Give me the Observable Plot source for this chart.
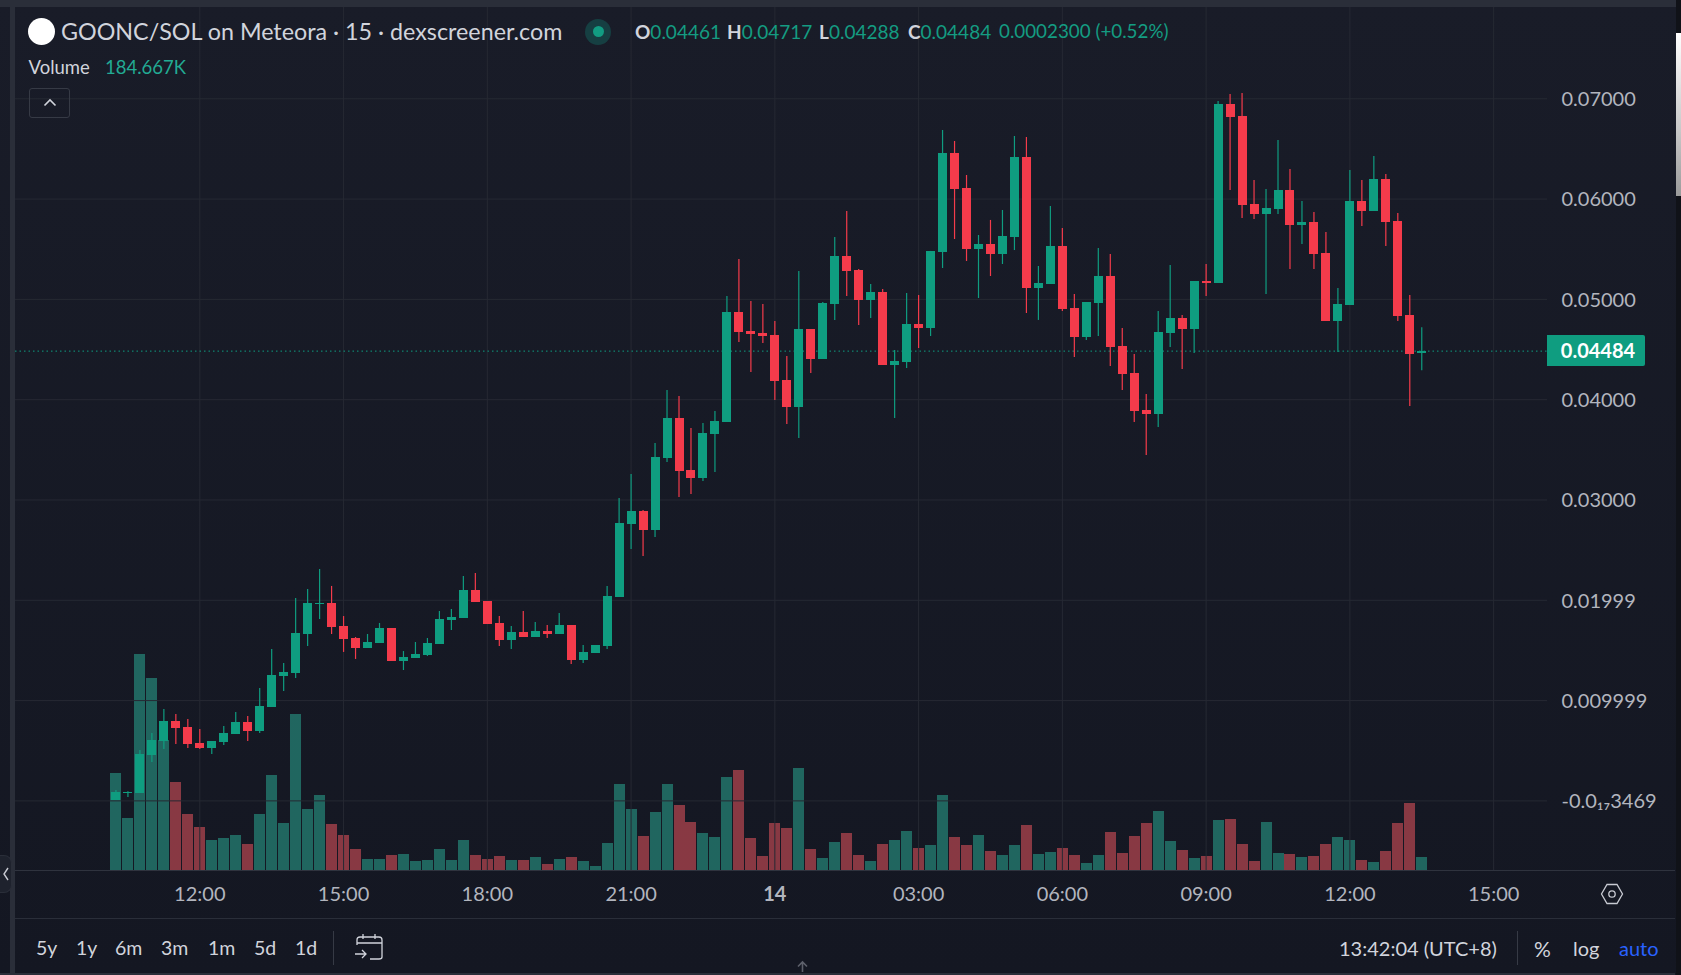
<!DOCTYPE html>
<html><head><meta charset="utf-8">
<script src="https://cdn.jsdelivr.net/npm/d3@7"></script>
<script src="https://cdn.jsdelivr.net/npm/@observablehq/plot@0.6"></script>
<style>
html,body{margin:0;padding:0;width:1681px;height:975px;overflow:hidden;background:linear-gradient(180deg,#191c28 0%,#141722 100%);font-family:Lato,"Noto Sans",sans-serif;color:#d1d4dc}
#stage{position:relative;width:1681px;height:975px;overflow:hidden}
#stage svg{position:absolute;left:0;top:0;background:transparent}
.a{position:absolute;white-space:nowrap;line-height:1}
.g{color:#149c82}
.box{position:absolute}
</style></head><body><div id="stage"></div>
<script>
// prices in units of 0.00001, one entry per 15-minute bar starting 10:15
const priceOpen=[4,74,74,452,592,792,732,572,522,582,662,782,692,931,1240,1270,1659,1958,1968,1739,1619,1519,1569,1719,1390,1420,1450,1559,1798,1818,2098,1988,1769,1599,1679,1629,1689,1659,1749,1400,1470,1539,2028,2756,2885,2696,3414,3813,3294,3214,3653,3773,4869,4680,4660,4640,4191,3922,4700,4401,4949,5428,5288,4989,5069,4341,4371,4750,4710,5468,6455,6106,5497,5547,5448,5617,6415,5109,5149,5527,4909,4620,4959,5228,4530,4261,3892,3852,4660,4810,4700,5178,5159,6943,6823,5946,5846,5896,6086,5737,5767,5458,4780,4939,5976,5876,6195,5777,4839,4461];
const priceHigh=[104,90,502,672,911,861,811,712,592,742,881,841,1121,1509,1370,2018,2108,2307,2138,1838,1629,1659,1769,1719,1489,1579,1619,1888,1908,2237,2267,1988,1838,1739,1888,1779,1749,1868,1749,1549,1549,2138,3015,3254,2895,3563,4092,4032,3713,3763,3882,5029,5398,4979,4949,4780,4431,5278,4700,4969,5617,5876,5298,5149,5099,4491,5059,5039,5478,6684,6574,6235,5637,5787,5886,6624,6614,5328,5926,5707,5049,4969,5507,5448,4710,4451,4052,4879,5338,4839,5178,5348,6973,7043,7053,6185,6096,6584,6295,5976,5866,5667,5109,6285,6185,6425,6245,5856,5039,4717];
const priceLow=[4,34,74,383,512,562,522,512,462,552,662,592,672,931,1091,1220,1539,1808,1659,1480,1410,1519,1569,1390,1300,1420,1440,1559,1699,1818,1978,1759,1539,1509,1629,1629,1619,1659,1360,1370,1470,1509,2028,2507,2437,2626,3374,3025,3055,3184,3274,3773,4570,4271,4560,3992,3753,3613,4261,4401,4790,5029,4740,4810,4341,3813,4311,4510,4630,5308,5597,5378,5009,5228,5348,5487,4859,4790,5149,4879,4421,4590,4630,4331,4092,3773,3444,3723,4520,4301,4461,5029,5159,6086,5806,5797,5049,5846,5298,5547,5298,4780,4471,4939,5727,5876,5527,4780,3932,4288];
const priceClose=[84,84,462,602,792,722,562,522,592,672,782,692,941,1250,1280,1669,1968,1968,1729,1609,1519,1579,1719,1390,1430,1460,1569,1808,1828,2098,1978,1759,1599,1679,1629,1689,1659,1749,1400,1480,1549,2038,2766,2885,2696,3424,3813,3284,3214,3663,3783,4869,4670,4650,4630,4181,3922,4700,4401,4959,5428,5278,4989,5069,4341,4381,4750,4710,5478,6455,6096,5497,5547,5448,5627,6415,5109,5159,5527,4899,4620,4969,5228,4520,4251,3882,3852,4670,4810,4700,5178,5159,6943,6813,5936,5846,5906,6086,5737,5767,5448,4780,4949,5976,5876,6195,5767,4830,4451,4484];
// volume in thousands
const volumeK=[1382,743,3072,2731,1851,1254,800,615,431,459,502,374,800,1354,672,2220,871,1070,658,502,303,161,161,218,232,133,147,303,147,431,218,161,204,147,147,189,90,161,189,133,62,383,1221,866,483,824,1221,923,682,525,469,1320,1420,454,199,667,596,1448,298,170,398,525,213,128,369,426,554,312,355,1065,469,355,497,270,213,355,639,227,256,312,213,99,213,540,241,483,667,838,412,284,170,199,710,724,369,128,682,241,227,185,199,369,469,426,142,114,270,667,951,185];
const firstBar="2024-01-13T10:15:00Z";
const axisStart="2024-01-13T08:09:14Z", axisEnd="2024-01-14T16:07:26Z";
const hourTicks=["2024-01-13T12:00:00Z","2024-01-13T15:00:00Z","2024-01-13T18:00:00Z","2024-01-13T21:00:00Z","2024-01-14T03:00:00Z","2024-01-14T06:00:00Z","2024-01-14T09:00:00Z","2024-01-14T12:00:00Z","2024-01-14T15:00:00Z"].map(d=>new Date(d));
const dayTicks=[new Date("2024-01-14T00:00:00Z")];
const priceTicks=[0.07,0.06,0.05,0.04,0.03,0.02,0.01,0];
const priceLabels=["0.07000","0.06000","0.05000","0.04000","0.03000","0.01999","0.009999","-0.0₁₇3469"];
const lastClose=0.04484;
const title="GOONC/SOL on Meteora · 15 · dexscreener.com";
const rangeButtons=[["5y",36],["1y",76],["6m",115],["3m",161],["1m",208],["5d",254],["1d",295]];
const upColor="#0f9d80", downColor="#f43b4b", upVol="#2bb39c", downVol="#fb5964", gridColor="#262933";

const t0=new Date(firstBar);
const bars=priceOpen.map((o,i)=>({time:d3.utcMinute.offset(t0,15*i),open:o/1e5,high:priceHigh[i]/1e5,low:priceLow[i]/1e5,close:priceClose[i]/1e5,volume:volumeK[i],up:priceClose[i]>=o}));
const W=1681,H=975,mL=15,mR=134,mT=7,mB=104.7;
const xOpt={type:"utc",domain:[new Date(axisStart),new Date(axisEnd)]};
const stage=document.getElementById("stage");

const volPlot=Plot.plot({width:W,height:H,marginLeft:mL,marginRight:mR,marginTop:mT,marginBottom:mB,
  x:{...xOpt,axis:null},y:{domain:[0,12259],axis:null},style:{background:"transparent"},
  marks:[
    Plot.ruleX(bars,{x:"time",y1:0,y2:"volume",stroke:d=>d.up?upVol:downVol,strokeOpacity:0.5,strokeWidth:11,shapeRendering:"crispEdges"})
  ]});
const pricePlot=Plot.plot({width:W,height:H,marginLeft:mL,marginRight:mR,marginTop:mT,marginBottom:mB,
  x:xOpt,y:{domain:[-0.00697,0.0791]},style:{background:"transparent",fontFamily:"Lato,'Noto Sans',sans-serif"},
  marks:[
    Plot.gridY(priceTicks,{stroke:gridColor,strokeOpacity:1}),
    Plot.gridX([...hourTicks,...dayTicks],{stroke:gridColor,strokeOpacity:1}),
    Plot.axisY(priceTicks,{anchor:"right",label:null,tickSize:0,tickPadding:14,dy:1,fontSize:20,fill:"#b2b5be",tickFormat:(d,i)=>priceLabels[priceTicks.indexOf(d)]}),
    Plot.axisX(hourTicks,{anchor:"bottom",label:null,tickSize:0,tickPadding:16,fontSize:20,fill:"#b2b5be",tickFormat:d3.utcFormat("%H:%M")}),
    Plot.axisX(dayTicks,{anchor:"bottom",label:null,tickSize:0,tickPadding:16,fontSize:20,fontWeight:700,fill:"#b2b5be",tickFormat:d3.utcFormat("%d")}),
    Plot.ruleY([lastClose],{stroke:upColor,strokeDasharray:"1.5 3"}),
    Plot.ruleX(bars,{x:"time",y1:"low",y2:"high",stroke:d=>d.up?upColor:downColor,strokeWidth:1.2}),
    Plot.ruleX(bars,{x:"time",y1:"open",y2:"close",stroke:d=>d.up?upColor:downColor,strokeWidth:9,shapeRendering:"crispEdges"})
  ]});
stage.append(volPlot,pricePlot);

function add(html){stage.insertAdjacentHTML("beforeend",html);}
function txt(s,x,yc,size,extra=""){add(`<div class="a" style="left:${x}px;top:${yc-size/2}px;font-size:${size}px;${extra}">${s}</div>`);}
function box(x,y,w,h,style){add(`<div class="box" style="left:${x}px;top:${y}px;width:${w}px;height:${h}px;${style}"></div>`);}

// frame
box(0,0,1681,7,"background:#2a2e39");
box(10,7,5,968,"background:#2a2e39");
box(1675.5,0,5.5,975,"background:#101218");
box(1676,33,5,163,"background:linear-gradient(180deg,#fff,#c8c8c8 60%,#9a9a9a)");
box(15,870,1660,1,"background:#2f333e");
box(15,918,1660,1,"background:#2a2e39");
box(0,972.5,1675,2.5,"background:#2a2e39");
box(0,855,12,38,"background:#1e222d;border-radius:0 8px 8px 0;border:1px solid #2a2e39;border-left:0;box-sizing:border-box");
add(`<svg class="box" style="left:2px;top:866px" width="8" height="16" viewBox="0 0 8 16"><path d="M6 2 L2 8 L6 14" fill="none" stroke="#c8cad2" stroke-width="1.4"/></svg>`);

// legend header
add(`<div class="box" style="left:27.5px;top:18px;width:27px;height:27px;border-radius:50%;background:#fff"></div>`);
txt(title,61,32,23.3,"color:#d1d4dc");
add(`<div class="box" style="left:585px;top:18.5px;width:26px;height:26px;border-radius:50%;background:#163f42"></div>`);
add(`<div class="box" style="left:592.5px;top:26px;width:11px;height:11px;border-radius:50%;background:#129c82"></div>`);
[["O","0.04461",635],["H","0.04717",727],["L","0.04288",819],["C","0.04484",908]].forEach(([k,v,x])=>{
  txt(`<span style="font-weight:700;color:#d1d4dc">${k}</span><span class="g">${v}</span>`,x,31,19);
});
txt("0.0002300 (+0.52%)",999,31,18.8,"color:#149c82");
txt("Volume",28.5,67,18.5,"color:#d1d4dc");
txt("184.667K",105,67,18.5,"color:#22ab94");
box(29,88,41,30,"border:1px solid #363a45;border-radius:3px;box-sizing:border-box");
add(`<svg class="box" style="left:43px;top:98px" width="14" height="9" viewBox="0 0 14 9"><path d="M1.5 7.5 L7 2 L12.5 7.5" fill="none" stroke="#d1d4dc" stroke-width="1.6"/></svg>`);

// last price badge, placed with the chart's own scale
const badgeY=pricePlot.scale("y").apply(lastClose);
add(`<div class="a" style="left:1547px;top:${badgeY-15.5}px;width:98px;height:31px;line-height:31px;box-sizing:border-box;padding-left:4px;background:#0f9d80;border-radius:0 2px 2px 0;color:#fff;font-size:20px;font-weight:700;text-align:center">0.04484</div>`);

// scale settings icon
add(`<svg class="box" style="left:1600px;top:882px" width="24" height="24" viewBox="0 0 24 24"><path d="M7 2.5 H17 L22.5 12 L17 21.5 H7 L1.5 12 Z" fill="none" stroke="#c8cad2" stroke-width="1.3"/><circle cx="12" cy="12" r="3.2" fill="none" stroke="#c8cad2" stroke-width="1.3"/></svg>`);

// bottom toolbar
rangeButtons.forEach(([s,x])=>txt(s,x,948,19.5,"color:#d1d4dc"));
box(333,931,1,34,"background:#363a45");
add(`<svg class="box" style="left:354px;top:932px" width="30" height="30" viewBox="0 0 30 30"><path d="M3 13 V8 Q3 5 6 5 H25 Q28 5 28 8 V25 Q28 27 25 27 H16 M3 11 H28 M9 2 V7 M21 2 V7 M1 22 H12 M8 18 L12 22 L8 26" fill="none" stroke="#d1d4dc" stroke-width="1.3"/></svg>`);
txt("13:42:04 (UTC+8)",1339,948,20,"color:#d1d4dc");
box(1517,931,1,34,"background:#363a45");
txt("%",1534,948,21,"color:#d1d4dc");
txt("log",1573,948,20,"color:#d1d4dc");
txt("auto",1619,948,20,"color:#2962ff");
add(`<svg class="box" style="left:796px;top:960px" width="13" height="13" viewBox="0 0 13 13"><path d="M6.5 12 V2 M2 6.5 L6.5 2 L11 6.5" fill="none" stroke="#5d606b" stroke-width="1.6"/></svg>`);
</script></body></html>
